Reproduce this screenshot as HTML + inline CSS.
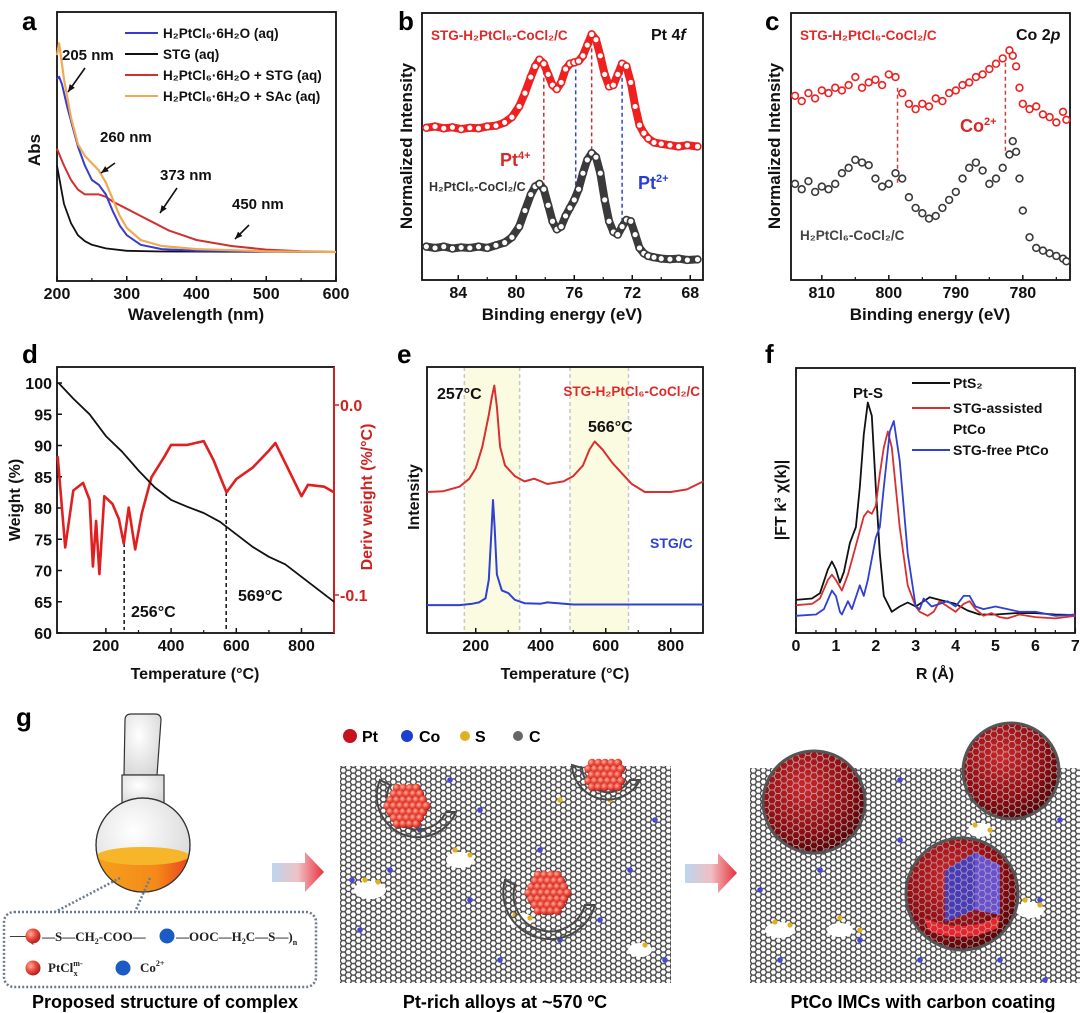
<!DOCTYPE html>
<html><head><meta charset="utf-8"><style>
html,body{margin:0;padding:0;background:#fff;}
svg{display:block;font-family:"Liberation Sans",Arial,sans-serif;font-weight:bold;}
</style></head><body>
<svg id="fig" width="1080" height="1013" viewBox="0 0 1080 1013" xmlns="http://www.w3.org/2000/svg">
<defs>
<pattern id="hex" width="10" height="5.77" patternUnits="userSpaceOnUse">
<path d="M0,2.89 L1.67,0 L5,0 L6.67,2.89 L5,5.77 L1.67,5.77 Z M6.67,2.89 L10,2.89" fill="none" stroke="#4a4a4a" stroke-width="1.4"/>
</pattern>
<pattern id="hexw" width="12" height="6.93" patternUnits="userSpaceOnUse">
<path d="M0,3.46 L2,0 L6,0 L8,3.46 L6,6.93 L2,6.93 Z M8,3.46 L12,3.46" fill="none" stroke="#bbb" stroke-width="1"/>
</pattern>
<radialGradient id="sph" cx="40%" cy="35%" r="65%"><stop offset="0" stop-color="#d0262b"/><stop offset="0.7" stop-color="#8e0c12"/><stop offset="1" stop-color="#5a0508"/></radialGradient>
<radialGradient id="ball" cx="35%" cy="35%" r="65%"><stop offset="0" stop-color="#ffb0a0"/><stop offset="0.5" stop-color="#f0503f"/><stop offset="1" stop-color="#b52020"/></radialGradient>
<radialGradient id="flaskg" cx="40%" cy="35%" r="70%"><stop offset="0" stop-color="#fff"/><stop offset="1" stop-color="#d8d8d8"/></radialGradient>
<linearGradient id="arrowg" x1="0" x2="1"><stop offset="0" stop-color="#bcd6ee"/><stop offset="0.5" stop-color="#f0c0c4"/><stop offset="1" stop-color="#e8303c"/></linearGradient>
<linearGradient id="liq" x1="0" x2="1"><stop offset="0" stop-color="#f7a21c"/><stop offset="0.6" stop-color="#f48a1a"/><stop offset="1" stop-color="#e8301c"/></linearGradient>
<clipPath id="bulbclip"><circle cx="143" cy="845" r="47"/></clipPath>
</defs>

<text x="22" y="30" font-size="26">a</text>
<text x="398" y="30" font-size="26">b</text>
<text x="765" y="30" font-size="26">c</text>
<text x="22" y="363" font-size="26">d</text>
<text x="397" y="363" font-size="26">e</text>
<text x="765" y="363" font-size="26">f</text>
<text x="16" y="726" font-size="26">g</text>

<g id="ga"></g>
<g id="gb"></g>
<g id="gc"></g>
<g id="gd"></g>
<g id="ge"></g>
<g id="gf"></g>

<g>
 <g>
  <path d="M125,720 Q125,714 131,714 L155,714 Q161,714 161,720 L157,775 L124,775 Z" fill="url(#flaskg)" stroke="#333" stroke-width="1.2"/>
  <rect x="122" y="775" width="42" height="30" fill="url(#flaskg)" stroke="#333" stroke-width="1.2"/>
  <circle cx="143" cy="845" r="47" fill="url(#flaskg)" stroke="#333" stroke-width="1.2"/>
  <g clip-path="url(#bulbclip)"><rect x="90" y="855" width="110" height="50" fill="url(#liq)"/><ellipse cx="143" cy="856" rx="46" ry="9" fill="#f7b52a"/></g>
  <circle cx="143" cy="845" r="47" fill="none" stroke="#333" stroke-width="1.2"/>
 </g>
 <path d="M120,878 L55,912 M150,878 L135,912" stroke="#6a7b8c" stroke-width="2.5" stroke-dasharray="2,2"/>
 <rect x="4" y="912" width="312" height="75" rx="10" fill="#fff" stroke="#6a7b8c" stroke-width="2.5" stroke-dasharray="2,2"/>
 <g font-family="'Liberation Serif',serif" font-size="13" fill="#222">
  <text x="10" y="941" font-size="18" font-weight="normal">—(</text>
  <circle cx="33" cy="936" r="7.5" fill="url(#ball)"/>
  <text x="42" y="941">—S—CH<tspan font-size="8" dy="3">2</tspan><tspan dy="-3">-COO—</tspan></text>
  <circle cx="167" cy="936" r="7.5" fill="#1a5bc4"/>
  <text x="176" y="941">—OOC—H<tspan font-size="8" dy="3">2</tspan><tspan dy="-3">C—S—)</tspan><tspan font-size="8" dy="4">n</tspan></text>
  <circle cx="33" cy="968" r="7.5" fill="url(#ball)"/>
  <text x="48" y="972">PtCl<tspan font-size="8" dy="-6">m-</tspan><tspan font-size="8" dx="-9" dy="10">x</tspan></text>
  <circle cx="123" cy="968" r="7.5" fill="#1a5bc4"/>
  <text x="140" y="972">Co<tspan font-size="8" dy="-6">2+</tspan></text>
 </g>
 <path d="M272,863 L305,863 L305,852 L324,872 L305,892 L305,882 L272,882 Z" fill="url(#arrowg)"/>
 <path d="M685,864 L718,864 L718,853 L737,873 L718,893 L718,883 L685,883 Z" fill="url(#arrowg)"/>
 <g font-size="16">
  <circle cx="350" cy="736" r="7" fill="#c8101e"/><text x="362" y="742">Pt</text>
  <circle cx="407" cy="736" r="6" fill="#1d3fd0"/><text x="419" y="742">Co</text>
  <circle cx="465" cy="736" r="5" fill="#e0b020"/><text x="475" y="742">S</text>
  <circle cx="518" cy="736" r="5" fill="#666"/><text x="529" y="742">C</text>
 </g>
 <rect x="340" y="766" width="331" height="217" fill="url(#hex)"/>
 <rect x="750" y="768" width="330" height="215" fill="url(#hex)"/>
 <g id="decor"></g>
 <g id="clusters"></g>
 <g>
  <circle cx="814" cy="802" r="50" fill="url(#sph)"/><circle cx="814" cy="802" r="50" fill="url(#hexw)" opacity="0.8"/><circle cx="814" cy="802" r="51" fill="none" stroke="#555" stroke-width="3"/>
  <circle cx="1011" cy="771" r="47" fill="url(#sph)"/><circle cx="1011" cy="771" r="47" fill="url(#hexw)" opacity="0.8"/><circle cx="1011" cy="771" r="48" fill="none" stroke="#555" stroke-width="3"/>
  <circle cx="962" cy="894" r="55" fill="url(#sph)"/>
  <path d="M945,870 L975,852 L975,910 L945,922 Z" fill="#4a3ab8"/><path d="M975,852 L1000,865 L1000,915 L975,910 Z" fill="#6a50d0"/>
  <path d="M925,918 Q962,935 1000,916 L998,928 Q962,945 928,930 Z" fill="#e8232a"/>
  <circle cx="962" cy="894" r="55" fill="url(#hexw)" opacity="0.7"/><circle cx="962" cy="894" r="56" fill="none" stroke="#555" stroke-width="3"/>
 </g>
 <text x="165" y="1008" font-size="18" text-anchor="middle">Proposed structure of complex</text>
 <text x="505" y="1008" font-size="18" text-anchor="middle">Pt-rich alloys at ~570 ºC</text>
 <text x="923" y="1008" font-size="18" text-anchor="middle">PtCo IMCs with carbon coating</text>
</g>
</svg>
<script>
// ---------- DATA ----------
const aNmOrange=[200,203,210,220,230,240,250,260,270,280,290,300,320,350,400,500,600];
const aAbsOrange=[0.82,0.87,0.72,0.56,0.45,0.40,0.37,0.34,0.29,0.22,0.15,0.10,0.05,0.025,0.012,0.003,0];
const aNmBlue=[200,203,207,215,230,240,250,260,270,280,290,300,320,350,400,600];
const aAbsBlue=[0.72,0.73,0.70,0.60,0.44,0.36,0.30,0.28,0.24,0.17,0.11,0.07,0.03,0.012,0.005,0];
const aNmRed=[200,210,220,230,240,250,260,270,280,300,320,340,360,380,400,450,500,550,600];
const aAbsRed=[0.43,0.36,0.30,0.26,0.24,0.24,0.24,0.23,0.21,0.18,0.15,0.12,0.09,0.07,0.05,0.025,0.01,0.003,0];
const aNmBlack=[200,205,210,220,230,240,250,270,300,350,600];
const aAbsBlack=[0.36,0.28,0.20,0.12,0.07,0.045,0.03,0.015,0.005,0.002,0];
const aTicks=[200,300,400,500,600];
const bEv=[86.2,85.6,85.0,84.4,83.8,83.2,82.6,82.0,81.4,80.8,80.3,79.8,79.4,79.0,78.7,78.4,78.1,77.8,77.5,77.2,76.9,76.6,76.3,76.0,75.7,75.4,75.1,74.8,74.5,74.2,73.9,73.6,73.3,73.0,72.7,72.4,72.1,71.8,71.5,71.2,70.9,70.5,70.0,69.4,68.8,68.2,67.5];
const bRed=[.57,.575,.568,.572,.565,.57,.568,.575,.578,.59,.61,.65,.70,.76,.80,.825,.81,.77,.73,.715,.74,.79,.81,.815,.82,.84,.88,.92,.90,.84,.77,.725,.73,.77,.81,.80,.74,.65,.58,.55,.53,.515,.51,.505,.50,.505,.50];
const bGray=[.125,.12,.125,.118,.122,.12,.125,.12,.13,.14,.16,.20,.26,.32,.35,.36,.34,.28,.22,.19,.20,.24,.27,.30,.34,.40,.45,.475,.46,.40,.30,.22,.18,.17,.20,.225,.22,.17,.12,.10,.09,.085,.08,.078,.08,.075,.077];
const bTicks=[84,80,76,72,68];
const cEv=[814,813,812,811,810,809,808,807,806,805,804,803,802,801,800,799,798,797,796,795,794,793,792,791,790,789,788,787,786,785,784,783,782,781.5,781,780.5,780,779,778,777,776,775,774,773.5];
const cRed=[.69,.67,.70,.68,.71,.70,.72,.71,.73,.76,.72,.74,.75,.73,.77,.76,.70,.66,.64,.66,.65,.68,.67,.70,.71,.73,.74,.76,.77,.79,.81,.83,.86,.84,.80,.72,.66,.64,.65,.62,.61,.59,.63,.60];
const cGray=[.36,.34,.37,.33,.35,.34,.36,.40,.42,.45,.44,.43,.38,.35,.36,.40,.38,.31,.27,.25,.23,.24,.27,.30,.33,.38,.42,.44,.41,.36,.38,.42,.47,.52,.48,.38,.26,.16,.12,.11,.10,.09,.08,.07];
const cTicks=[810,800,790,780];
const dT=[55,100,150,200,250,300,350,400,450,500,550,600,650,700,750,800,850,900];
const dWeight=[100,97.5,95.0,91.5,89,86,83.3,81.3,80.2,79.2,77.8,75.8,73.8,72.2,71,69,67,65];
const dTd=[52,75,100,130,150,160,170,180,195,220,240,255,270,290,310,340,380,400,450,500,530,570,600,650,700,720,760,800,820,870,900];
const dDeriv=[-0.027,-0.075,-0.045,-0.041,-0.05,-0.085,-0.061,-0.089,-0.048,-0.052,-0.06,-0.073,-0.054,-0.076,-0.057,-0.038,-0.027,-0.021,-0.021,-0.019,-0.029,-0.046,-0.039,-0.033,-0.024,-0.02,-0.034,-0.048,-0.042,-0.043,-0.046];
const dTicksX=[200,400,600,800];
const dTicksY=[60,65,70,75,80,85,90,95,100];
const eTRed=[50,100,150,180,200,220,240,250,257,265,275,290,320,350,380,420,470,500,530,550,566,590,620,650,680,720,800,850,900];
const eRed=[53,53.3,55,58,62,70,82,89,93,85,70,63,59,57,58,56,57,59,63,69,72,69,64,60,56,53,53,54,57];
const eTBlue=[50,150,190,210,230,240,248,253,258,265,280,300,320,350,400,420,500,900];
const eBlue=[10.5,10.5,11,11.5,13,20,38,50,40,22,16,15,12.5,11.2,11,11.5,10.7,10.7];
const eTicks=[200,400,600,800];
const fRBlack=[0,0.4,0.6,0.8,0.9,1.0,1.1,1.2,1.35,1.5,1.6,1.7,1.8,1.9,2.0,2.1,2.2,2.4,2.6,2.8,3.0,3.2,3.35,3.6,4.0,4.3,4.6,5.0,5.5,6.0,6.5,7];
const fBlack=[12.5,13,15,24,27,24,19,23,34,40,55,75,87,82,55,30,14,8,10,11.5,10,12,13.5,12.5,11,8.5,7,7,7.5,7.5,7,6.8];
const fRRed=[0,0.4,0.6,0.8,0.9,1.0,1.15,1.3,1.5,1.7,1.8,1.9,2.0,2.1,2.2,2.3,2.4,2.6,2.8,3.0,3.1,3.3,3.45,3.6,3.8,4.0,4.2,4.35,4.5,4.7,4.9,5.1,5.3,5.6,6.0,6.5,7];
const fRed=[10.5,11,13,20,22,20,16,22,33,44,46,45,48,60,70,76,70,40,18,10,8,6.5,8,12,10,8,11,12,9,6.5,7.5,6,5.5,7,6,5.5,6.5];
const fRBlue=[0,0.5,0.7,0.9,1.0,1.1,1.15,1.3,1.4,1.6,1.7,1.8,2.0,2.1,2.2,2.35,2.45,2.6,2.8,3.0,3.1,3.2,3.4,3.6,3.8,4.0,4.2,4.35,4.5,4.7,5.0,5.3,5.6,6.0,6.5,7];
const fBlue=[6.5,7,9,16,14,8,7,12,9,18,14,20,36,40,55,76,80,65,30,10,9,13,10,11,12,10,14,14,10,9,10,9,8,8,6.5,7];
const fTicks=[0,1,2,3,4,5,6,7];

// ---------- HELPERS ----------
const NS='http://www.w3.org/2000/svg';
function mk(parent,tag,attrs){const el=document.createElementNS(NS,tag);for(const k in attrs)el.setAttribute(k,attrs[k]);parent.appendChild(el);return el;}
function txt(parent,x,y,s,size,fill,anchor,name){
  const el=mk(parent,'text',{x:x,y:y,'font-size':size,fill:fill||'#111','text-anchor':anchor||'start'});
  el.textContent=s;
  
  
  return el;}
function rtxt(parent,x,y,s,size,fill,name){
  const el=mk(parent,'text',{x:0,y:0,'font-size':size,fill:fill||'#111','text-anchor':'middle',transform:`translate(${x},${y}) rotate(-90)`});
  el.textContent=s;
  
  
  return el;}
function box(parent,x0,y0,x1,y1,name){
  const el=mk(parent,'rect',{x:x0,y:y0,width:x1-x0,height:y1-y0,fill:'none',stroke:'#111','stroke-width':1.8});
  
  }
function xticks(parent,ticks,sx,yb,name,minorStep,xmin,xmax){
  ticks.forEach(t=>{
    const tk=mk(parent,'line',{x1:sx(t),x2:sx(t),y1:yb,y2:yb-5,stroke:'#111','stroke-width':1.5});
    
    
    txt(parent,sx(t),yb+18,String(t),16,'#111','middle',name+'-tick-label');
    const mx=sx(t+minorStep);
    if(minorStep && mx>xmin+2 && mx<xmax-2){const m=mk(parent,'line',{x1:mx,x2:mx,y1:yb,y2:yb-3,stroke:'#111','stroke-width':1.2});
      
      }
  });}
function path(parent,xs,ys,sx,sy,color,w,name){
  let d='';for(let i=0;i<xs.length;i++)d+=(i?'L':'M')+sx(xs[i]).toFixed(1)+','+sy(ys[i]).toFixed(1);
  const el=mk(parent,'path',{d:d,fill:'none',stroke:color,'stroke-width':w,'stroke-linejoin':'round'});
  
  
  return el;}
function markers(parent,xs,ys,sx,sy,color,name){
  const g=mk(parent,'g',{});
  
  
  for(let i=0;i<xs.length;i++){mk(g,'circle',{cx:sx(xs[i]),cy:sy(ys[i]),r:3.4,fill:'#fff',stroke:color,'stroke-width':1.6});}
}
function dashed(parent,x,y1,y2,color,name){
  const el=mk(parent,'line',{x1:x,x2:x,y1:y1,y2:y2,stroke:color,'stroke-width':1.5,'stroke-dasharray':'4,3'});
  
  }

// ---------- PANEL A ----------
(function(){
const g=document.getElementById('ga');
const sx=v=>57+(v-200)*0.6975, sy=v=>252-v*240;
box(g,57,12,336,281,'plot-area-a');
xticks(g,aTicks,sx,281,'x-axis-a',50,57,336);
path(g,aNmBlack,aAbsBlack,sx,sy,'#111',1.8,'series-stg');
path(g,aNmRed,aAbsRed,sx,sy,'#d03030',2,'series-h2ptcl6-stg');
path(g,aNmBlue,aAbsBlue,sx,sy,'#3a3ad0',2,'series-h2ptcl6');
path(g,aNmOrange,aAbsOrange,sx,sy,'#eeaa55',2.2,'series-h2ptcl6-sac');
txt(g,196,320,'Wavelength (nm)',17,'#111','middle','x-axis-title-a');
rtxt(g,40,150,'Abs',17,'#111','y-axis-title-a');
const leg=[['#3a3ad0','H₂PtCl₆·6H₂O (aq)'],['#111','STG (aq)'],['#d03030','H₂PtCl₆·6H₂O + STG (aq)'],['#eeaa55','H₂PtCl₆·6H₂O + SAc (aq)']];
leg.forEach((l,i)=>{const y=33+i*21;
 const ln=mk(g,'line',{x1:125,x2:158,y1:y,y2:y,stroke:l[0],'stroke-width':2});
 
 
 txt(g,163,y+5,l[1],13.5,'#111','start','legend-entry-a');});
txt(g,62,60,'205 nm',15,'#111','start','annot-205');
txt(g,100,142,'260 nm',15,'#111','start','annot-260');
txt(g,160,180,'373 nm',15,'#111','start','annot-373');
txt(g,232,209,'450 nm',15,'#111','start','annot-450');
[[85,68,68,92],[115,163,101,173],[177,188,160,213],[249,225,235,239]].forEach(a=>{
 const ar=mk(g,'line',{x1:a[0],y1:a[1],x2:a[2],y2:a[3],stroke:'#111','stroke-width':1.6});
 
 
 const ang=Math.atan2(a[3]-a[1],a[2]-a[0]);const L=8;
 const p=[[a[2],a[3]],[a[2]-L*Math.cos(ang-0.4),a[3]-L*Math.sin(ang-0.4)],[a[2]-L*Math.cos(ang+0.4),a[3]-L*Math.sin(ang+0.4)]];
 mk(g,'polygon',{points:p.map(q=>q.join(',')).join(' '),fill:'#111'});
});
})();

// ---------- PANEL B ----------
(function(){
const g=document.getElementById('gb');
const sx=v=>422+(86.5-v)*14.5, sy=v=>280-v*267;
box(g,422,13,703,280,'plot-area-b');
xticks(g,bTicks,sx,280,'x-axis-b',-2,422,703);
dashed(g,sx(78.1),sy(0.81),sy(0.36),'#c83030','peak-line-pt4-1');
dashed(g,sx(75.9),sy(0.815),sy(0.30),'#3344cc','peak-line-pt2-1');
dashed(g,sx(74.8),sy(0.92),sy(0.475),'#c83030','peak-line-pt4-2');
dashed(g,sx(72.7),sy(0.81),sy(0.225),'#3344cc','peak-line-pt2-2');
path(g,bEv,bRed,sx,sy,'#ee2020',8,'series-stg-h2ptcl6-cocl2-band');
markers(g,bEv,bRed,sx,sy,'#ee2020','series-stg-h2ptcl6-cocl2');
path(g,bEv,bGray,sx,sy,'#3a3a3a',8,'series-h2ptcl6-cocl2-band');
markers(g,bEv,bGray,sx,sy,'#3a3a3a','series-h2ptcl6-cocl2');
txt(g,562,320,'Binding energy (eV)',17,'#111','middle','x-axis-title-b');
rtxt(g,412,146,'Normalized Intensity',17,'#111','y-axis-title-b');
txt(g,431,40,'STG-H₂PtCl₆-CoCl₂/C',13.5,'#e02828','start','label-stg-sample-b');
txt(g,651,40,'Pt 4',16,'#111','start','label-pt4f').innerHTML='Pt 4<tspan font-style="italic">f</tspan>';
txt(g,500,166,'Pt',18,'#d82828','start','label-pt4plus').innerHTML='Pt<tspan font-size="11" dy="-7">4+</tspan>';
txt(g,429,191,'H₂PtCl₆-CoCl₂/C',12.5,'#333','start','label-ref-sample-b');
txt(g,638,189,'Pt',18,'#2a3ed0','start','label-pt2plus').innerHTML='Pt<tspan font-size="11" dy="-7">2+</tspan>';
})();

// ---------- PANEL C ----------
(function(){
const g=document.getElementById('gc');
const sx=v=>791+(814.6-v)*6.7, sy=v=>280-v*267;
box(g,791,13,1070,280,'plot-area-c');
xticks(g,cTicks,sx,280,'x-axis-c',-5,791,1070);
dashed(g,sx(798.7),sy(0.72),sy(0.36),'#c84040','peak-line-co-1');
dashed(g,sx(782.6),sy(0.84),sy(0.47),'#c84040','peak-line-co-2');
markers(g,cEv,cRed,sx,sy,'#ee2020','series-stg-h2ptcl6-cocl2-c');
markers(g,cEv,cGray,sx,sy,'#3a3a3a','series-h2ptcl6-cocl2-c');
txt(g,930,320,'Binding energy (eV)',17,'#111','middle','x-axis-title-c');
rtxt(g,780,146,'Normalized Intensity',17,'#111','y-axis-title-c');
txt(g,800,40,'STG-H₂PtCl₆-CoCl₂/C',13.5,'#e02828','start','label-stg-sample-c');
txt(g,1016,40,'Co 2',16,'#111','start','label-co2p').innerHTML='Co 2<tspan font-style="italic">p</tspan>';
txt(g,960,132,'Co',18,'#d82828','start','label-co2plus').innerHTML='Co<tspan font-size="11" dy="-7">2+</tspan>';
txt(g,800,240,'H₂PtCl₆-CoCl₂/C',13.5,'#444','start','label-ref-sample-c');
})();

// ---------- PANEL D ----------
(function(){
const g=document.getElementById('gd');
const sx=v=>57+(v-50)*0.326, sy=v=>633-(v-60)*6.25, sy2=v=>405-v*1900;
box(g,57,367,334,633,'plot-area-d');
const ra=mk(g,'line',{x1:334,x2:334,y1:367,y2:633,stroke:'#d02020','stroke-width':2});


xticks(g,dTicksX,sx,633,'x-axis-d',100,57,334);
dTicksY.forEach(t=>{
 const tk=mk(g,'line',{x1:57,x2:62,y1:sy(t),y2:sy(t),stroke:'#111','stroke-width':1.5});
 
 
 txt(g,52,sy(t)+6,String(t),16,'#111','end','y-axis-d-tick-label');});
[0,-0.1].forEach(t=>{
 const tk=mk(g,'line',{x1:334,x2:339,y1:sy2(t),y2:sy2(t),stroke:'#d02020','stroke-width':1.5});
 
 
 txt(g,340,sy2(t)+6,t.toFixed(1),16,'#d02020','start','y2-axis-d-tick-label');});
dashed(g,sx(256),543,630,'#111','marker-256');
dashed(g,sx(569),492,630,'#111','marker-569');
path(g,dTd,dDeriv,sx,sy2,'#e02020',2.6,'series-deriv-weight');
path(g,dT,dWeight,sx,sy,'#111',1.8,'series-weight');
txt(g,131,617,'256°C',16,'#111','start','annot-256');
txt(g,238,601,'569°C',16,'#111','start','annot-569');
txt(g,195,679,'Temperature (°C)',16,'#111','middle','x-axis-title-d');
rtxt(g,20,500,'Weight (%)',16,'#111','y-axis-title-d');
rtxt(g,372,497,'Deriv weight (%/°C)',16,'#d02020','y2-axis-title-d');
})();

// ---------- PANEL E ----------
(function(){
const g=document.getElementById('ge');
const sx=v=>427+(v-50)*0.325, sy=v=>633-v*2.66;
[[165,335],[490,670]].forEach(b=>{
 const r=mk(g,'rect',{x:sx(b[0]),y:367,width:sx(b[1])-sx(b[0]),height:266,fill:'#fbfbe2'});
 
 
 dashed(g,sx(b[0]),367,633,'#c8c8c8','band-edge');
 dashed(g,sx(b[1]),367,633,'#c8c8c8','band-edge');});
box(g,427,367,703,633,'plot-area-e');
xticks(g,eTicks,sx,633,'x-axis-e',100,427,703);
path(g,eTRed,eRed,sx,sy,'#d83030',2,'series-stg-h2ptcl6-cocl2-e');
path(g,eTBlue,eBlue,sx,sy,'#3040d0',2,'series-stg-c');
txt(g,437,399,'257°C',16,'#111','start','annot-257');
txt(g,588,432,'566°C',16,'#111','start','annot-566');
txt(g,700,396,'STG-H₂PtCl₆-CoCl₂/C',13.5,'#e02828','end','label-stg-sample-e');
txt(g,650,548,'STG/C',14,'#3040d0','start','label-stg-c');
txt(g,565,679,'Temperature (°C)',16,'#111','middle','x-axis-title-e');
rtxt(g,419,497,'Intensity',16,'#111','y-axis-title-e');
})();

// ---------- PANEL F ----------
(function(){
const g=document.getElementById('gf');
const sx=v=>796+v*39.9, sy=v=>633-v*2.65;
box(g,796,368,1075,633,'plot-area-f');
xticks(g,fTicks,sx,633,'x-axis-f',0.5,796,1075);
path(g,fRBlack,fBlack,sx,sy,'#111',1.8,'series-pts2');
path(g,fRRed,fRed,sx,sy,'#d83030',1.8,'series-stg-assisted-ptco');
path(g,fRBlue,fBlue,sx,sy,'#3040d0',1.8,'series-stg-free-ptco');
const leg=[['#111','PtS₂',383],['#d83030','STG-assisted',408],['#3040d0','STG-free PtCo',450]];
leg.forEach(l=>{
 const ln=mk(g,'line',{x1:912,x2:950,y1:l[2],y2:l[2],stroke:l[0],'stroke-width':2});
 
 
 txt(g,953,l[2]+5,l[1],14,'#111','start','legend-entry-f');});
txt(g,953,434,'PtCo',14,'#111','start','legend-entry-f-cont');
txt(g,868,398,'Pt-S',15,'#111','middle','annot-pt-s');
txt(g,935,679,'R (Å)',16,'#111','middle','x-axis-title-f');
rtxt(g,786,500,'|FT k³ χ(k)|',16,'#111','y-axis-title-f');
})();

// ---------- PANEL G decoration ----------
(function(){
const dec=document.getElementById('decor');
const blues=[[352,880],[360,930],[390,870],[420,830],[450,780],[470,900],[500,960],[540,850],[560,940],[600,920],[630,870],[655,820],[665,960],[480,810],[760,890],[780,960],[820,870],[860,940],[900,840],[920,960],[1000,960],[1040,900],[1060,820],[900,780],[1045,980]];
blues.forEach(p=>mk(dec,'circle',{cx:p[0],cy:p[1],r:2.8,fill:'#4a4ad8'}));
const whites=[[370,890,16,9],[460,860,14,8],[520,920,13,7],[640,950,12,7],[780,930,15,8],[840,930,13,7],[1030,910,14,8],[980,830,12,7]];
whites.forEach(p=>mk(dec,'ellipse',{cx:p[0],cy:p[1],rx:p[2],ry:p[3],fill:'#fff'}));
const ys=[[365,880],[378,882],[455,850],[470,855],[515,915],[530,918],[645,945],[775,922],[790,925],[840,918],[860,930],[1025,900],[1040,905],[975,825],[990,830],[560,800],[610,800]];
ys.forEach(p=>mk(dec,'circle',{cx:p[0],cy:p[1],r:2.6,fill:'#e0b020'}));
const cl=document.getElementById('clusters');
const cs=[[407,806,22,'M380,780 A40,40 0 0,0 456,812 L446,812 A30,30 0 0,1 390,785 Z'],[605,775,18,'M572,765 A36,36 0 0,0 640,780 L630,780 A26,26 0 0,1 582,768 Z'],[548,893,22,'M505,880 A45,45 0 0,0 595,905 L585,905 A35,35 0 0,1 515,885 Z']];
cs.forEach(c=>{
 const sh=mk(cl,'path',{d:c[3],fill:'url(#hex)',stroke:'#4a4a4a','stroke-width':2});
 
 
 for(let i=-3;i<=3;i++)for(let j=-3;j<=3;j++){const dx=i*6.5+(j%2?3:0),dy=j*6;if(dx*dx+dy*dy<=c[2]*c[2])mk(cl,'circle',{cx:c[0]+dx,cy:c[1]+dy,r:4.2,fill:'url(#ball)'});}
});
})();
</script>
</body></html>
